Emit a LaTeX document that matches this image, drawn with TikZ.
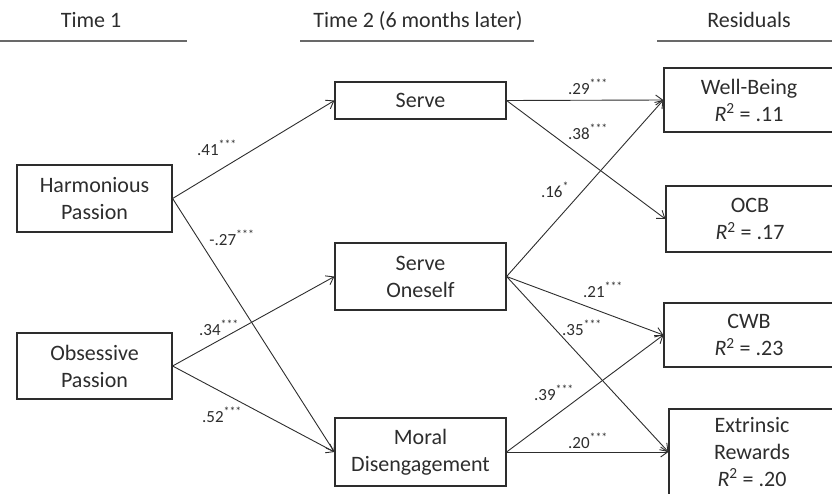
\documentclass[tikz,border=0pt]{standalone}
\usepackage{fontspec}
\setmainfont{Carlito}
\usepackage{xcolor}
\usetikzlibrary{arrows.meta}
\definecolor{ink}{RGB}{45,45,45}
\definecolor{rulegray}{RGB}{105,105,105}

\begin{document}
\begin{tikzpicture}[x=1pt,y=-1pt,
    box/.style={draw=ink, line width=1.2pt, text=ink, align=center, inner sep=0pt,
                font=\fontsize{22}{27}\selectfont},
    coef/.style={text=ink, anchor=base, inner sep=0pt, font=\fontsize{17}{20}\selectfont},
    head/.style={text=ink, anchor=base, inner sep=0pt, font=\fontsize{22}{26}\selectfont},
    headrule/.style={draw=rulegray, line width=1.5pt},
    link/.style={draw=ink, line width=0.9pt, -{Straight Barb[length=7pt,width=10pt]}}]
        \useasboundingbox (0,0) rectangle (832,493);

        % --- headings ---
        \node[head] (time1) at (91,27) {Time 1};
        \node[head] (time2) at (418,27) {Time 2 (6 months later)};
        \node[head] (resid) at (749,27) {Residuals};
        \draw[headrule] (0,41) -- (187,41);
        \draw[headrule] (300,41) -- (534,41);
        \draw[headrule] (657,41) -- (832,41);

        % --- Time 1 ---
        \node[box, minimum width=155pt, minimum height=67pt] (hp) at (94.5,198.5) {Harmonious\\Passion};
        \node[box, minimum width=155pt, minimum height=66pt] (op) at (94.5,366) {Obsessive\\Passion};

        % --- Time 2 ---
        \node[box, minimum width=171pt, minimum height=37pt] (serve) at (420.5,100.5) {Serve};
        \node[box, minimum width=171pt, minimum height=67pt] (oneself) at (420.5,276.5) {Serve\\Oneself};
        \node[box, minimum width=171pt, minimum height=68pt] (moral) at (420.5,452) {Moral\\Disengagement};

        % --- outcomes ---
        \node[box, minimum width=170pt, minimum height=64pt] (wellb) at (749,100) {Well-Being\\\textit{R}\textsuperscript{2} = .11};
        \node[box, minimum width=168pt, minimum height=66pt] (ocb) at (750,219) {OCB\\\textit{R}\textsuperscript{2} = .17};
        \node[box, minimum width=170pt, minimum height=64pt] (cwb) at (749,335) {CWB\\\textit{R}\textsuperscript{2} = .23};
        \node[box, minimum width=166pt, minimum height=86pt] (extr) at (752,452) {Extrinsic\\Rewards\\\textit{R}\textsuperscript{2} = .20};

        % --- paths ---
        \draw[link] (hp.east) -- (serve.west);
        \draw[link] (hp.east) -- (moral.west);
        \draw[link] (op.east) -- (oneself.west);
        \draw[link] (op.east) -- (moral.west);
        \draw[link] (serve.east) -- (wellb.west);
        \draw[link] (serve.east) -- (ocb.west);
        \draw[link] (oneself.east) -- (wellb.west);
        \draw[link] (oneself.east) -- (cwb.west);
        \draw[link] (oneself.east) -- (extr.west);
        \draw[link] (moral.east) -- (cwb.west);
        \draw[link] (moral.east) -- (extr.west);

        % --- coefficients ---
        \node[coef] (c41) at (217,155) {.41\textsuperscript{***}};
        \node[coef] (c27) at (232,245) {-.27\textsuperscript{***}};
        \node[coef] (c34) at (219,335) {.34\textsuperscript{***}};
        \node[coef] (c52) at (222,422) {.52\textsuperscript{***}};
        \node[coef] (c29) at (588,94) {.29\textsuperscript{***}};
        \node[coef] (c38) at (588,139) {.38\textsuperscript{***}};
        \node[coef] (c16) at (555,197) {.16\textsuperscript{*}};
        \node[coef] (c21) at (603,297) {.21\textsuperscript{***}};
        \node[coef] (c35) at (582,335) {.35\textsuperscript{***}};
        \node[coef] (c39) at (554,400) {.39\textsuperscript{***}};
        \node[coef] (c20) at (588,448) {.20\textsuperscript{***}};
    \end{tikzpicture}
\end{document}
